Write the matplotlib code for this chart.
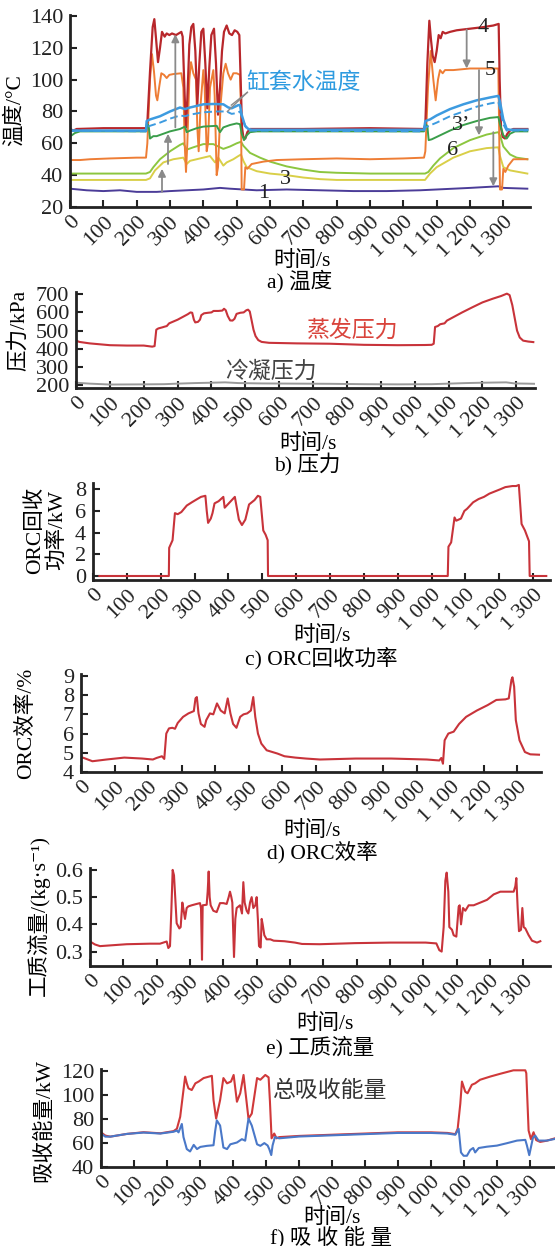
import matplotlib
matplotlib.use("Agg")
import matplotlib.pyplot as plt

plt.rcParams['font.family'] = ['Liberation Serif', 'Noto Sans CJK SC', 'DejaVu Serif']
plt.rcParams['axes.unicode_minus'] = False

W, H = 555, 1246

# ---------------- data ----------------
xticks = list(range(0, 1301, 100))
xticklabels = ['0', '100', '200', '300', '400', '500', '600', '700', '800', '900',
               '1 000', '1 100', '1 200', '1 300']

# a) temperatures
t4 = [0, 10, 20, 100, 200, 228, 232, 240, 248, 253, 258, 264, 270, 276, 284, 290, 298, 306, 318, 334, 338,
      344, 348, 352, 358, 364, 370, 376, 382, 388, 394, 400, 406, 412, 418, 424, 432, 438, 444, 450, 456,
      462, 470, 478, 486, 494, 502, 508, 512, 516, 520, 526, 532, 540, 700, 900, 1062, 1066, 1072, 1078,
      1083, 1088, 1094, 1100, 1106, 1112, 1118, 1126, 1140, 1160, 1200, 1240, 1270, 1286, 1289, 1293,
      1298, 1305, 1312, 1320, 1330, 1372]
y4 = [69, 68, 69, 69.5, 69.5, 69.5, 73, 105, 133, 138, 126, 111, 120, 130, 127, 129, 128, 129, 128, 130, 127,
      90, 70, 88, 122, 133, 135, 118, 84, 110, 130, 132, 110, 82, 108, 128, 132, 110, 78, 95, 118,
      130, 134, 129, 128, 131, 130, 128, 100, 70, 64, 63, 67, 69, 69, 69.5, 69, 72, 110, 137,
      125, 115, 111, 118, 128, 126, 130, 129, 130, 131, 132, 133, 134, 135, 100, 70,
      64, 63, 66, 68, 69, 69]

t5 = [0, 30, 60, 120, 200, 228, 232, 240, 246, 252, 258, 262, 268, 274, 282, 290, 298, 310, 334, 340, 344,
      348, 352, 358, 363, 370, 378, 382, 386, 392, 400, 404, 410, 414, 420, 430, 434, 440, 444, 452, 460,
      467, 474, 482, 490, 500, 510, 513, 515, 522, 526, 532, 545, 580, 620, 700, 800, 900, 1000, 1062,
      1066, 1074, 1082, 1090, 1097, 1104, 1110, 1118, 1125, 1150, 1200, 1260, 1285, 1288, 1290, 1296,
      1300, 1306, 1315, 1330, 1372]
y5 = [49.5, 49.5, 50, 50.5, 51, 51, 60, 100, 116, 105, 90, 87, 96, 104, 103, 101, 103, 103.5, 104, 95, 60,
      42, 60, 100, 111, 104, 100, 70, 55, 85, 106, 95, 55, 60, 95, 106, 90, 40, 45, 85, 104,
      110, 104, 100, 104, 104, 103, 80, 31, 31, 45, 44, 47, 48.5, 49.5, 50, 50.5, 50, 50.5, 51,
      55, 95, 118, 100, 87, 100, 106, 104, 106, 106, 107, 107, 107, 60, 31, 31,
      44, 42, 46, 50, 50]

tb = [0, 5, 20, 228, 230, 240, 270, 300, 330, 345, 360, 380, 400, 430, 460, 475, 485, 495, 505, 510, 515,
      525, 535, 545, 700, 900, 1062, 1066, 1080, 1100, 1140, 1180, 1220, 1260, 1285, 1290, 1300, 1310,
      1320, 1372]
yb = [69, 68, 68, 68, 74, 75, 77, 80, 82.5, 81.5, 82.5, 83.5, 84.5, 84.7, 84.5, 82.5, 82, 83, 84, 84, 78,
      71, 69, 68.5, 68.5, 68.5, 68.5, 74, 75, 77.5, 81.5, 84.5, 87, 88.8, 89.8, 86, 75, 69,
      68.5, 68.5]

tbd = [0, 228, 231, 240, 270, 300, 330, 345, 360, 400, 440, 470, 485, 500, 510, 520, 530, 540, 1062, 1066,
       1100, 1140, 1180, 1220, 1260, 1285, 1292, 1300, 1310, 1372]
ybd = [68, 67.5, 70, 71, 73, 75.5, 77.5, 77, 78, 79.5, 80, 80, 78.5, 79, 80, 74, 69, 68, 67.5, 70,
       73, 77, 80, 83, 85, 86, 80, 72, 68, 68]

t3p = [0, 5, 15, 30, 228, 232, 236, 240, 250, 260, 280, 300, 330, 345, 350, 360, 380, 400, 440, 450, 460,
       480, 500, 510, 515, 522, 530, 540, 560, 1062, 1066, 1072, 1076, 1085, 1100, 1140, 1180, 1220,
       1260, 1285, 1290, 1300, 1310, 1320, 1335, 1372]
y3p = [66.5, 65, 66.5, 67.5, 67.5, 72, 71, 63, 64.5, 64.5, 66, 67.5, 69, 70.5, 67, 68, 69.5, 70.5, 71, 67, 70,
       71.5, 72.5, 72, 66, 62, 65, 67, 67.5, 67.5, 72, 71, 62, 62.5, 64, 68, 71.5, 74,
       76, 76.5, 72, 65, 63, 66, 67.5, 67.5]

t6 = [0, 228, 240, 250, 270, 300, 330, 340, 350, 370, 400, 430, 445, 460, 480, 500, 513, 520, 540, 570,
      600, 650, 700, 750, 800, 900, 1065, 1075, 1090, 1110, 1150, 1200, 1250, 1285, 1290, 1300, 1320,
      1340, 1372]
y6 = [41, 41, 42, 45, 50, 55, 59, 60, 56, 57.5, 59.5, 59.5, 58, 56.5, 58, 60, 61, 58.5, 54, 51,
      48.5, 45.5, 43.5, 42, 41.5, 41, 41, 42, 46, 50.5, 57, 62, 65.5, 67, 65, 58, 53,
      51, 50]

t3 = [0, 228, 240, 255, 280, 310, 340, 350, 360, 380, 400, 420, 435, 445, 460, 470, 490, 505, 513, 520,
      530, 560, 600, 650, 700, 750, 800, 1065, 1080, 1100, 1150, 1200, 1250, 1285, 1290, 1300, 1320,
      1372]
y3 = [37, 37, 38, 43, 48, 50, 51, 47, 49, 50, 51, 52, 48, 51, 46, 48, 50, 52, 53, 49,
      45, 42.5, 41, 40, 38.5, 37.5, 37, 37, 41, 45, 51, 55, 57, 57.5, 52, 45, 43,
      41]

t1 = [0, 50, 100, 150, 200, 260, 300, 350, 400, 450, 480, 520, 560, 650, 750, 850, 950, 1050, 1100, 1200,
      1285, 1300, 1372]
y1 = [31.5, 30.5, 30, 30.5, 29.5, 29.5, 30, 30.5, 31, 32, 31.5, 31, 30.5, 31, 30.5, 30, 30, 30.5, 31, 32,
      33, 32, 31.5]

# b) pressures
tev = [0, 10, 40, 100, 150, 200, 225, 232, 237, 243, 255, 262, 268, 275, 285, 300, 315, 330, 338, 343, 348,
       352, 360, 366, 370, 378, 390, 400, 406, 420, 432, 437, 442, 448, 455, 462, 468, 474, 485, 495, 503,
       508, 513, 518, 524, 530, 538, 548, 570, 650, 750, 850, 950, 1030, 1050, 1056, 1060, 1068, 1075,
       1088, 1095, 1105, 1115, 1140, 1170, 1200, 1230, 1255, 1272, 1280, 1288, 1295, 1302, 1310, 1320,
       1335, 1350]
pev = [445, 438, 430, 420, 418, 418, 412, 415, 505, 512, 518, 522, 525, 540, 548, 560, 575, 590, 600, 598, 560,
       545, 548, 560, 585, 595, 598, 600, 608, 608, 610, 620, 612, 580, 556, 555, 565, 592, 598, 600, 612,
       615, 605, 560, 505, 470, 448, 438, 433, 430, 428, 422, 420, 421, 422, 428, 520, 525, 535,
       540, 555, 565, 575, 600, 628, 655, 675, 690, 703, 695, 640, 570, 500, 462, 445,
       440, 437]
tco = [0, 40, 100, 200, 260, 300, 350, 400, 440, 480, 550, 650, 750, 850, 950, 1050, 1100, 1150, 1200, 1270,
       1295, 1330, 1355]
pco = [214, 209, 204, 205, 206, 209, 212, 214, 216, 212, 210, 209, 208, 206, 205, 206, 209, 212, 214, 216,
       210, 209, 208]

# c) ORC power
tpw = [19, 224, 225, 235, 242, 250, 261, 277, 292, 308, 319, 332, 336, 340, 348, 353, 359, 371, 385, 389,
       398, 419, 431, 440, 450, 461, 477, 487, 494, 503, 510, 516, 517, 1048, 1050, 1058, 1068, 1073,
       1087, 1097, 1105, 1123, 1139, 1155, 1171, 1187, 1203, 1218, 1239, 1250, 1258, 1266, 1276, 1288,
       1290, 1339]
pw = [0, 0, 2.6, 3.3, 5.8, 5.7, 5.9, 6.5, 6.8, 7.1, 7.3, 7.4, 6.0, 4.9, 5.3, 5.8, 6.7, 6.9, 7.3, 6.3,
      6.6, 7.3, 5.2, 4.7, 5.2, 6.6, 7.0, 7.4, 7.3, 4.2, 3.8, 3.3, 0, 0, 2.7, 3.1, 5.4, 5.1,
      5.3, 6.0, 6.2, 6.8, 7.1, 7.3, 7.6, 7.8, 8.0, 8.2, 8.3, 8.3, 8.4, 4.8, 4.2, 3.2,
      0, 0]

# d) ORC efficiency
tef = [0, 13, 34, 76, 129, 182, 214, 225, 241, 248, 254, 262, 272, 280, 288, 304, 320, 336, 341, 345, 350,
       357, 368, 373, 384, 394, 405, 416, 428, 437, 445, 453, 463, 474, 484, 495, 506, 513, 519, 527, 537,
       553, 585, 606, 638, 670, 712, 818, 924, 1030, 1067, 1073, 1078, 1083, 1094, 1110, 1126, 1147,
       1179, 1211, 1237, 1264, 1274, 1282, 1285, 1290, 1295, 1306, 1322, 1338, 1364]
ef = [4.78, 4.7, 4.56, 4.65, 4.75, 4.7, 4.65, 4.73, 4.82, 4.68, 6.0, 6.27, 6.3, 6.25, 6.55, 6.87, 7.05, 7.17,
      7.83, 7.9, 7.05, 6.5, 6.35, 6.7, 7.05, 7.0, 7.57, 7.2, 7.05, 7.83, 7.05, 6.5, 6.3, 6.87, 7.0, 7.05,
      7.2, 7.9, 6.87, 6.0, 5.48, 5.13, 4.96, 4.82, 4.75, 4.7, 4.65, 4.7, 4.7, 4.65, 4.6, 4.73, 4.43, 5.65,
      6.0, 6.1, 6.5, 6.87, 7.2, 7.48, 7.75, 7.78, 7.83, 8.8, 8.93, 8.44, 6.7, 5.65, 5.04, 4.92, 4.9]

# e) working fluid mass flow
tmf = [0, 15, 30, 110, 180, 210, 230, 235, 240, 244, 248, 252, 255, 260, 268, 272, 277, 281, 285, 290, 295,
       305, 320, 330, 333, 336, 338, 350, 353, 356, 359, 362, 370, 380, 390, 400, 410, 416, 420, 424, 427,
       432, 436, 440, 450, 456, 460, 464, 470, 475, 480, 485, 490, 496, 500, 504, 507, 512, 515, 518, 523,
       530, 541, 551, 583, 615, 636, 689, 795, 901, 1007, 1039, 1048, 1055, 1061, 1066, 1070, 1075, 1078,
       1086, 1091, 1099, 1106, 1109, 1113, 1119, 1126, 1136, 1151, 1171, 1191, 1211, 1231, 1251, 1271,
       1276, 1279, 1283, 1287, 1293, 1297, 1301, 1306, 1316, 1326, 1341, 1351]
mf = [0.337, 0.326, 0.32, 0.327, 0.329, 0.329, 0.337, 0.313, 0.32, 0.45, 0.60, 0.58, 0.514, 0.404, 0.385,
      0.39, 0.48, 0.45, 0.42, 0.46, 0.466, 0.47, 0.475, 0.478, 0.46, 0.27, 0.47, 0.472, 0.52, 0.594, 0.50,
      0.47, 0.45, 0.445, 0.478, 0.478, 0.475, 0.50, 0.52, 0.50, 0.48, 0.28, 0.42, 0.46, 0.47, 0.44, 0.555,
      0.48, 0.45, 0.44, 0.48, 0.50, 0.46, 0.47, 0.50, 0.41, 0.32, 0.315, 0.42, 0.40, 0.36, 0.345, 0.345,
      0.34, 0.338, 0.333, 0.328, 0.327, 0.331, 0.333, 0.333, 0.33, 0.305, 0.30, 0.39, 0.56, 0.59, 0.52,
      0.39, 0.38, 0.36, 0.355, 0.465, 0.47, 0.40, 0.46, 0.45, 0.47, 0.47, 0.48, 0.49, 0.51, 0.52, 0.52,
      0.52, 0.54, 0.57, 0.46, 0.375, 0.38, 0.46, 0.39, 0.385, 0.36, 0.34, 0.333, 0.338]

# f) absorbed energy
tab = [0, 13, 28, 79, 129, 180, 220, 230, 240, 248, 255, 260, 265, 275, 286, 296, 311, 336, 341, 349, 361,
       371, 382, 394, 402, 412, 422, 432, 447, 457, 473, 483, 498, 508, 512, 517, 525, 532, 540, 600, 700,
       800, 900, 1000, 1050, 1074, 1081, 1089, 1094, 1104, 1111, 1124, 1134, 1149, 1180, 1210, 1250,
       1286, 1289, 1296, 1303, 1311, 1319, 1331, 1351, 1376]
eab = [69, 66.3, 65.4, 67.7, 69.1, 68.2, 70, 72, 82, 100, 115.7, 110, 105.8, 104.4, 110, 111.5, 114.4,
       116.3, 96, 80.5, 96, 114.4, 110, 111.5, 117, 94.6, 101.7, 117, 80.5, 84.7, 114.4, 113, 117, 115,
       95, 64, 68, 64, 65, 66, 67, 68, 69, 69, 68.5, 67.5, 72, 93, 111.5, 103, 101.7, 108.8, 110, 113,
       115.7, 118, 120.9, 120.9, 118.5, 70.5, 63.3, 69.1, 62.5, 61, 62, 64]
tbl = [0, 13, 28, 79, 129, 180, 220, 230, 235, 245, 250, 260, 270, 281, 291, 301, 321, 341, 346, 351, 361,
       371, 382, 392, 412, 427, 437, 447, 457, 473, 483, 495, 505, 510, 516, 520, 527, 540, 600, 700, 800,
       900, 1000, 1050, 1074, 1084, 1091, 1099, 1109, 1119, 1128, 1134, 1145, 1170, 1200, 1230, 1261,
       1286, 1291, 1298, 1303, 1309, 1316, 1326, 1351, 1376]
ebl = [68, 65.4, 65.4, 67.7, 68.8, 68, 69.5, 70.5, 69, 76, 65, 55, 53, 58.5, 55, 56.8, 57.7, 58.2, 70, 79,
       74.7, 56.3, 55, 59, 60.5, 63.3, 62, 80.5, 74.7, 59, 57.7, 60, 58, 55, 50, 58, 65, 64, 65.5, 66.5,
       67.5, 68.5, 68.5, 68, 67, 72, 52.2, 49.4, 49.4, 54.2, 55.9, 52.2, 55.9, 57, 57.9, 59.9, 62.1,
       62.7, 57.9, 49.9, 56.4, 64.3, 66.3, 62.1, 62.1, 63.5]

# ---------------- drawing ----------------
fig = plt.figure(figsize=(W / 100, H / 100), dpi=100)
fig.patch.set_facecolor('white')

FS = 16      # tick labels
LFS = 15.5   # axis labels / captions
SP = '#222222'


def make_ax(l, r, t, b, xmax, ylim, yticks, yticklabels=None):
    ax = fig.add_axes([l / W, 1 - b / H, (r - l) / W, (b - t) / H])
    ax.set_xlim(0, xmax)
    ax.set_ylim(*ylim)
    for s in ['top', 'right']:
        ax.spines[s].set_visible(False)
    for s in ['left', 'bottom']:
        ax.spines[s].set_linewidth(2.0)
        ax.spines[s].set_color(SP)
    ax.set_xticks(xticks)
    ax.set_xticklabels(xticklabels, rotation=45, ha='right', va='top', rotation_mode='anchor')
    ax.set_yticks(yticks)
    if yticklabels is not None:
        ax.set_yticklabels(yticklabels)
    ax.tick_params(direction='in', length=5, width=1.5, color=SP, labelsize=FS, labelcolor='#222222')
    ax.tick_params(axis='x', pad=4)
    ax.tick_params(axis='y', pad=5)
    ax.patch.set_alpha(0)
    return ax


def ftext(x, y, s, **kw):
    fig.text(x / W, 1 - y / H, s, **kw)


# a
axa = make_ax(70, 530, 15, 207, 1380, (20, 140.6), [20, 40, 60, 80, 100, 120, 140])
axa.plot(t1, y1, color='#4b3c98', lw=1.4)
axa.plot(t3, y3, color='#d9cf48', lw=1.4)
axa.plot(t6, y6, color='#8cc63f', lw=1.4)
axa.plot(t5, y5, color='#ee7d35', lw=1.4)
axa.plot(t4, y4, color='#b8272b', lw=1.6)
axa.plot(t3p, y3p, color='#3a9e4a', lw=1.4)
axa.plot(tbd, ybd, color='#3d9be0', lw=1.4, ls=(0, (4, 2)))
axa.plot(tb, yb, color='#3d9be0', lw=1.8)
arrow_kw = dict(arrowstyle='-|>', color='#8a8a8a', lw=1.3, mutation_scale=11, shrinkA=0, shrinkB=0)
for (xa, y0, y1_) in [(276, 29.5, 44), (294, 47, 66), (316, 70, 128.5),
                      (1190, 131.5, 107), (1227, 106, 65), (1270, 67, 33)]:
    axa.annotate('', xy=(xa, y1_), xytext=(xa, y0), arrowprops=arrow_kw)
axa.plot([532, 484], [92, 84], color='#8a8a8a', lw=1.0)
axa.plot([532, 472], [92, 80], color='#8a8a8a', lw=1.0)
axa.text(700, 98, '缸套水温度', color='#2e9be0', fontsize=16.5, ha='center', va='center')
for (xx, yy, s) in [(580, 28.5, '1'), (645, 37.5, '3'), (1172, 71, '3’'), (1147, 55.5, '6'),
                    (1240, 133, '4'), (1260, 105.5, '5')]:
    axa.text(xx, yy, s, fontsize=FS, ha='center', va='center', color='#222222')
ftext(15, 110, '温度/°C', rotation=90, ha='center', va='center', fontsize=LFS)
ftext(302, 261, '时间/s', ha='center', va='center', fontsize=LFS)
ftext(300, 281, 'a) 温度', ha='center', va='center', fontsize=LFS)

# b
axb = make_ax(76, 535, 292, 388, 1355, (185, 712), [200, 300, 400, 500, 600, 700])
axb.plot(tco, pco, color='#9a9a9a', lw=1.4)
axb.plot(tev, pev, color='#c8333a', lw=1.5)
axb.text(816, 500, '蒸发压力', color='#d9443c', fontsize=16.5, ha='center', va='center')
axb.text(576, 275, '冷凝压力', color='#444444', fontsize=16.5, ha='center', va='center')
ftext(19, 330, '压力/kPa', rotation=90, ha='center', va='center', fontsize=LFS)
ftext(308, 444, '时间/s', ha='center', va='center', fontsize=LFS)
ftext(307, 465, 'b) 压力', ha='center', va='center', fontsize=LFS)

# c
axc = make_ax(93, 550, 483, 580, 1350, (-0.37, 8.58), [0, 2, 4, 6, 8])
axc.plot(tpw, pw, color='#c8333a', lw=1.5)
ftext(46, 530, 'ORC回收\n功率/kW', rotation=90, ha='center', va='center', fontsize=LFS,
      linespacing=1.05)
ftext(322, 636, '时间/s', ha='center', va='center', fontsize=LFS)
ftext(321, 658, 'c) ORC回收功率', ha='center', va='center', fontsize=LFS)

# d
axd = make_ax(81, 541, 674, 772, 1370, (4, 9.1), [4, 5, 6, 7, 8, 9])
axd.plot(tef, ef, color='#c8333a', lw=1.5)
ftext(26, 723, 'ORC效率/%', rotation=90, ha='center', va='center', fontsize=LFS)
ftext(312, 831, '时间/s', ha='center', va='center', fontsize=LFS)
ftext(322, 852, 'd) ORC效率', ha='center', va='center', fontsize=LFS)

# e
axe = make_ax(90, 550, 868, 966, 1380, (0.247, 0.607), [0.3, 0.4, 0.5, 0.6],
              ['0.3', '0.4', '0.5', '0.6'])
axe.plot(tmf, mf, color='#c8333a', lw=1.5)
ftext(38, 915, '工质流量/(kg·s⁻¹)', rotation=90, ha='center', va='center', fontsize=LFS)
ftext(325, 1024, '时间/s', ha='center', va='center', fontsize=LFS)
ftext(320, 1047, 'e) 工质流量', ha='center', va='center', fontsize=LFS)

# f
axf = make_ax(101, 555, 1069, 1167, 1376, (40, 122), [40, 60, 80, 100, 120])
axf.plot(tab, eab, color='#d0393a', lw=1.5)
axf.plot(tbl, ebl, color='#4a78c8', lw=1.5)
axf.text(693, 103, '总吸收能量', color='#333333', fontsize=16.5, ha='center', va='center')
ftext(44, 1120, '吸收能量/kW', rotation=90, ha='center', va='center', fontsize=LFS)
ftext(332, 1218, '时间/s', ha='center', va='center', fontsize=LFS)
ftext(331, 1237, 'f) 吸 收 能 量', ha='center', va='center', fontsize=LFS)

fig.savefig('out.png', dpi=100, facecolor='white')
